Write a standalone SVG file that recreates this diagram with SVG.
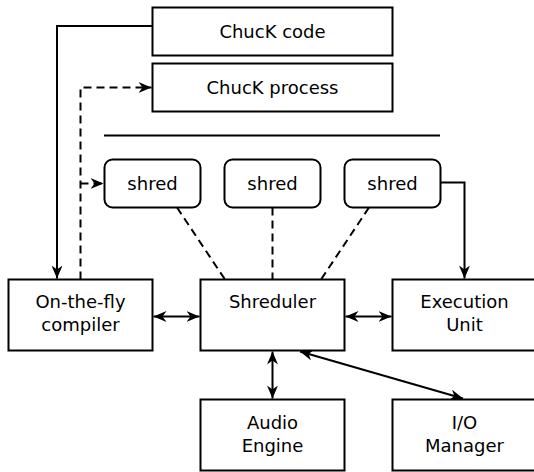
<svg xmlns="http://www.w3.org/2000/svg" width="534" height="472" viewBox="0 0 534 472">
  <style>
    .box { fill: #ffffff; stroke: #000000; stroke-width: 2; }
    .lbl { font-family: "DejaVu Sans", Verdana, sans-serif; font-size: 18px; fill: #000000; text-anchor: middle; }
    .edge { fill: none; stroke: #000000; stroke-width: 2; }
    .dash { stroke-dasharray: 8 5; }
  </style>
  <defs>
    <marker id="arrow" markerUnits="userSpaceOnUse" markerWidth="15" markerHeight="13" refX="13" refY="5.5" orient="auto-start-reverse" viewBox="0 0 15 13">
      <path d="M0,0 L13,5.5 L0,11 L4,5.5 z" fill="#000000"/>
    </marker>
  </defs>
  <rect width="534" height="472" fill="#ffffff"/>

  <!-- separator line above the shreds -->
  <line x1="104" y1="135.5" x2="440" y2="135.5" stroke="#000000" stroke-width="2"/>

  <g id="connectors">
    <!-- code into compiler -->
    <path class="edge" d="M152.5,26 H57 V278.5" marker-end="url(#arrow)"/>
    <!-- compiler spawns process and shreds -->
    <path class="edge dash" d="M80.5,279.5 V87.5 H151.5" marker-end="url(#arrow)"/>
    <path class="edge dash" d="M80.5,183.5 H103.5" marker-end="url(#arrow)"/>
    <!-- shreds to shreduler -->
    <path class="edge dash" d="M177,207.5 L225,279.5"/>
    <path class="edge dash" d="M272.5,207.5 V279.5"/>
    <path class="edge dash" d="M369,207.5 L321,279.5"/>
    <!-- shred to execution unit -->
    <path class="edge" d="M440.5,182.5 H464.5 V278.5" marker-end="url(#arrow)"/>
    <!-- two-way links -->
    <path class="edge" d="M153.5,316.5 H199.5" marker-start="url(#arrow)" marker-end="url(#arrow)"/>
    <path class="edge" d="M345.5,316.5 H391.5" marker-start="url(#arrow)" marker-end="url(#arrow)"/>
    <path class="edge" d="M272.5,351.5 V398.5" marker-start="url(#arrow)" marker-end="url(#arrow)"/>
    <path class="edge" d="M300,351.5 L463,398.5" marker-start="url(#arrow)" marker-end="url(#arrow)"/>
  </g>

  <g id="chuck-code">
    <rect class="box" x="152.5" y="7.5" width="240" height="48"/>
    <text class="lbl" x="272.5" y="37.5">ChucK code</text>
  </g>
  <g id="chuck-process">
    <rect class="box" x="152.5" y="63.5" width="240" height="48"/>
    <text class="lbl" x="272.5" y="93.5">ChucK process</text>
  </g>

  <g id="shred-1">
    <rect class="box" x="104.5" y="159.5" width="96" height="48" rx="8"/>
    <text class="lbl" x="152.5" y="189.5">shred</text>
  </g>
  <g id="shred-2">
    <rect class="box" x="224.5" y="159.5" width="96" height="48" rx="8"/>
    <text class="lbl" x="272.5" y="189.5">shred</text>
  </g>
  <g id="shred-3">
    <rect class="box" x="344.5" y="159.5" width="96" height="48" rx="8"/>
    <text class="lbl" x="392.5" y="189.5">shred</text>
  </g>

  <g id="compiler">
    <rect class="box" x="8.5" y="279.5" width="144" height="71"/>
    <text class="lbl" x="80.5" y="307.5">On-the-fly</text>
    <text class="lbl" x="80.5" y="331">compiler</text>
  </g>
  <g id="shreduler">
    <rect class="box" x="200.5" y="279.5" width="144" height="71"/>
    <text class="lbl" x="272.5" y="307.5">Shreduler</text>
  </g>
  <g id="execution-unit">
    <rect class="box" x="392.5" y="279.5" width="144" height="71"/>
    <text class="lbl" x="464.5" y="307.5">Execution</text>
    <text class="lbl" x="464.5" y="331">Unit</text>
  </g>

  <g id="audio-engine">
    <rect class="box" x="200.5" y="399.5" width="144" height="71"/>
    <text class="lbl" x="272.5" y="429">Audio</text>
    <text class="lbl" x="272.5" y="452">Engine</text>
  </g>
  <g id="io-manager">
    <rect class="box" x="392.5" y="399.5" width="144" height="71"/>
    <text class="lbl" x="464.5" y="429">I/O</text>
    <text class="lbl" x="464.5" y="452">Manager</text>
  </g>
</svg>
